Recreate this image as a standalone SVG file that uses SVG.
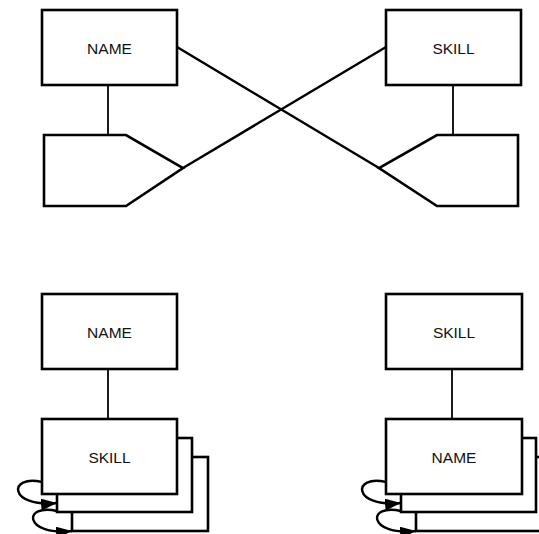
<svg xmlns="http://www.w3.org/2000/svg" width="539" height="534" viewBox="0 0 539 534">
<style>
.box{fill:#fff;stroke:#000;stroke-width:2.6}
.ln{fill:none;stroke:#000;stroke-width:2.4}
.thin{fill:none;stroke:#000;stroke-width:1.8}
.loop{fill:none;stroke:#000;stroke-width:2.4;marker-end:url(#arr)}
text{font-family:"Liberation Sans",Arial,sans-serif;font-size:15.5px;text-anchor:middle;fill:#111}
</style>
<defs>
<marker id="arr" markerWidth="18" markerHeight="12" refX="16" refY="6" orient="auto" markerUnits="userSpaceOnUse">
<path d="M0,0 L16,6 L0,12 Z" fill="#000"/>
</marker>
</defs>
<rect width="539" height="534" fill="#fff"/>
<g id="connectors">
<line class="thin" x1="108" y1="85" x2="108" y2="135"/>
<line class="thin" x1="453" y1="85" x2="453" y2="135"/>
<line class="ln" x1="177" y1="47" x2="379" y2="168"/>
<line class="ln" x1="386" y1="47" x2="183" y2="168"/>
<line class="thin" x1="108" y1="369" x2="108" y2="419"/>
<line class="thin" x1="452" y1="369" x2="452" y2="419"/>
</g>
<g id="name1">
<rect class="box" x="42" y="10" width="135" height="75"/>
<text x="109.5" y="54">NAME</text>
</g>
<g id="skill1">
<rect class="box" x="386" y="10" width="135" height="75"/>
<text x="453.5" y="54">SKILL</text>
</g>
<g id="shape1">
<polygon class="box" points="44,135 126,135 183,168 126,206 44,206"/>
</g>
<g id="shape2">
<polygon class="box" points="437,135 518,135 518,206 437,206 379,168"/>
</g>
<g id="name2">
<rect class="box" x="42" y="294" width="135" height="75"/>
<text x="109.5" y="338">NAME</text>
</g>
<g id="skill2">
<rect class="box" x="386" y="294" width="136" height="75"/>
<text x="454" y="338">SKILL</text>
</g>
<g id="skillstack">
<rect class="box" x="72" y="457" width="136" height="74"/>
<rect class="box" x="57" y="438" width="135" height="74"/>
<rect class="box" x="42" y="419" width="135" height="75"/>
<text x="109.5" y="463">SKILL</text>
<path class="loop" d="M42,482 C8,474 8,508 57,503"/>
<path class="loop" d="M57,511 C23,503 23,536 72,531"/>
</g>
<g id="namestack">
<rect class="box" x="416" y="457" width="136" height="74"/>
<rect class="box" x="401" y="438" width="135" height="74"/>
<rect class="box" x="386" y="419" width="136" height="75"/>
<text x="454" y="463">NAME</text>
<path class="loop" d="M386,482 C352,474 352,508 401,503"/>
<path class="loop" d="M401,511 C367,503 367,536 416,531"/>
</g>
</svg>
